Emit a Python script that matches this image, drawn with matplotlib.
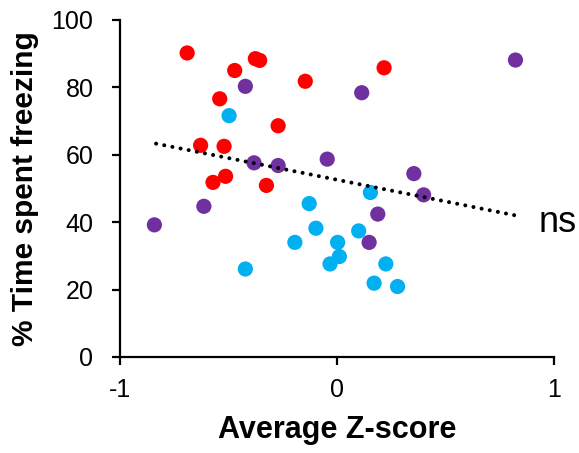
import matplotlib
matplotlib.use("Agg")
import matplotlib.pyplot as plt
import numpy as np

plt.rcParams["font.family"] = ["Liberation Sans", "DejaVu Sans"]

# group values: (Average Z-score, % time freezing)
red_x = [-0.69, -0.376, -0.356, -0.471, -0.146, -0.540, -0.271, -0.628, -0.520, -0.513, -0.571, -0.325, 0.217]
red_y = [90.2, 88.5, 88.0, 85.0, 81.8, 76.6, 68.6, 62.8, 62.5, 53.6, 51.8, 50.9, 85.8]

purple_x = [-0.422, -0.382, -0.271, -0.045, -0.613, -0.841, 0.822, 0.114, 0.354, 0.399, 0.188, 0.148]
purple_y = [80.3, 57.6, 56.8, 58.7, 44.7, 39.2, 88.1, 78.4, 54.4, 48.1, 42.4, 34.0]

cyan_x = [-0.497, -0.128, -0.097, -0.194, 0.003, 0.011, -0.032, -0.422, 0.154, 0.100, 0.225, 0.171, 0.279]
cyan_y = [71.6, 45.5, 38.2, 34.0, 34.0, 29.8, 27.6, 26.1, 48.8, 37.4, 27.6, 21.9, 20.9]

# trend line (endpoints)
trend_x = [-0.833, 0.830]
trend_y = [63.3, 41.9]

RED = "#ff0000"
PURPLE = "#7030a0"
CYAN = "#00b0f0"

fig = plt.figure(figsize=(5.79, 4.53), dpi=100)
ax = fig.add_axes([0.207, 0.212, 0.750, 0.744])

for xs, ys, c in [(red_x, red_y, RED), (purple_x, purple_y, PURPLE), (cyan_x, cyan_y, CYAN)]:
    ax.scatter(xs, ys, s=120, color=c, edgecolors="none", zorder=3)

ax.plot(trend_x, trend_y, color="black", lw=2.9, dashes=(0.01, 2.05),
        dash_capstyle="round", zorder=4)
ax.text(0.93, 40, "ns", fontsize=26, ha="left", va="center", clip_on=False)

ax.set_xlim(-1, 1)
ax.set_ylim(0, 100)
ax.set_xticks([-1, 0, 1])
ax.set_xticklabels(["-1", "0", "1"])
ax.set_yticks(np.arange(0, 101, 20))
for s in ["top", "right"]:
    ax.spines[s].set_visible(False)
for s in ["left", "bottom"]:
    ax.spines[s].set_linewidth(1.6)
ax.tick_params(direction="out", length=6, width=1.6, labelsize=18)
ax.tick_params(axis="y", pad=13)
ax.tick_params(axis="x", pad=9)

ax.set_xlabel("Average Z-score", fontsize=22, fontweight="bold")
ax.set_ylabel("% Time spent freezing", fontsize=21.5, fontweight="bold")
ax.xaxis.set_label_coords(0.5, -0.217)
ax.xaxis.label.set_va("center")
ax.yaxis.set_label_coords(-0.219, 0.5)
ax.yaxis.label.set_va("center")

fig.savefig("out.png", dpi=100, facecolor="white")
